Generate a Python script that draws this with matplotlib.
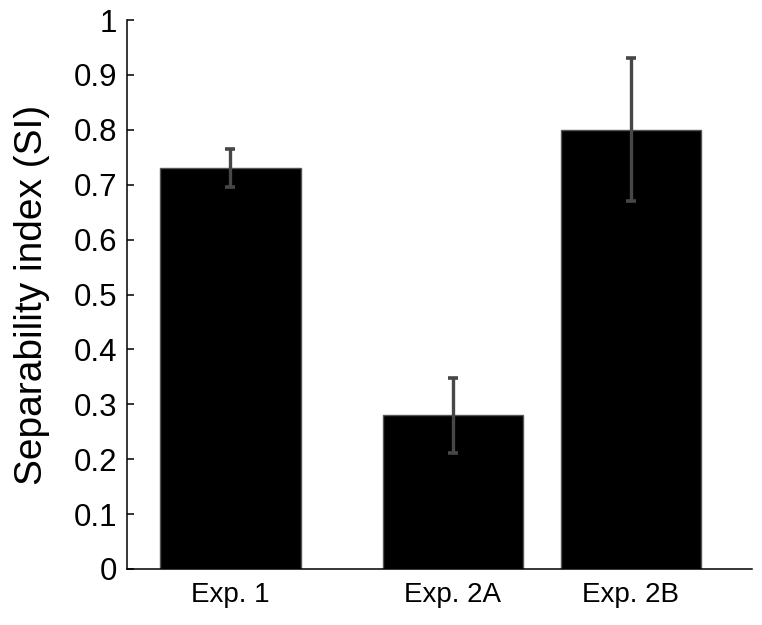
import numpy as np
import matplotlib.pyplot as plt

plt.rcParams['font.family'] = ['Liberation Sans', 'DejaVu Sans']

# data
labels = ['Exp. 1', 'Exp. 2A', 'Exp. 2B']
si_mean = [0.73, 0.28, 0.80]
si_lo = [0.695, 0.212, 0.670]
si_hi = [0.765, 0.348, 0.930]

# layout
xpos = [1.0, 2.25, 3.25]
width = 0.79

err = np.array([[m - lo for m, lo in zip(si_mean, si_lo)],
                [hi - m for m, hi in zip(si_mean, si_hi)]])

fig = plt.figure(figsize=(7.62, 6.25), dpi=100)
ax = fig.add_axes([0.1667, 0.0896, 0.8202, 0.8784])

ax.bar(xpos, si_mean, width=width, color='black', edgecolor='#555555',
       linewidth=1.0, zorder=2)
ax.errorbar(xpos, si_mean, yerr=err, fmt='none', ecolor='#474747',
            elinewidth=2.4, capsize=3.8, capthick=2.6, zorder=3)

ax.set_xlim(0.42, 3.93)
ax.set_ylim(0, 1)
ax.set_yticks(np.arange(0, 1.01, 0.1))
ax.set_yticklabels(['0', '0.1', '0.2', '0.3', '0.4', '0.5', '0.6', '0.7',
                    '0.8', '0.9', '1'])
ax.set_xticks(xpos)
ax.set_xticklabels(labels)

ax.tick_params(axis='y', direction='in', length=5, width=1.1, labelsize=22.5, pad=7)
ax.tick_params(axis='x', length=0, labelsize=20, pad=9)

for s in ['top', 'right']:
    ax.spines[s].set_visible(False)
for s in ['left', 'bottom']:
    ax.spines[s].set_linewidth(1.1)

ax.set_ylabel('Separability index (SI)', fontsize=28, labelpad=17)

fig.savefig('out.png', dpi=100)
